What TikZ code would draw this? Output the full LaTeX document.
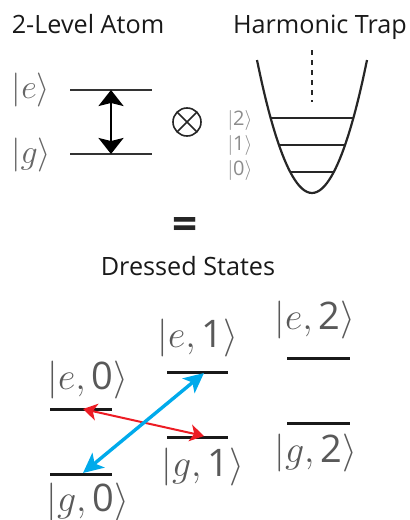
\RequirePackage{fix-cm}
\documentclass[tikz,border=0pt]{standalone}
\usepackage{amsmath}
\usepackage{fontspec}
\setsansfont{Open Sans}
\usepackage{xcolor}
\usetikzlibrary{arrows.meta}
\definecolor{lasred}{RGB}{237,28,36}
\definecolor{lasblue}{RGB}{0,170,235}
\tikzset{
  hd/.style={font=\sffamily\fontsize{12.6}{14}\selectfont, text=black!90, inner sep=0pt, anchor=base},
  ket/.style={text=black!60, inner sep=0pt, font=\fontsize{17}{20}\selectfont},
  tket/.style={text=black!45, inner sep=0pt, font=\fontsize{10}{12}\selectfont},
  dket/.style={text=black!65, inner sep=0pt, font=\fontsize{19}{22}\selectfont},
  alvl/.style={draw=black!80, line width=1pt},
  tlvl/.style={draw=black!85, line width=1.1pt},
  dlvl/.style={draw=black!90, line width=1.5pt},
  otimes/.style={circle, draw=black!85, line width=0.8pt, minimum size=14pt, inner sep=0pt,
    path picture={\draw[black!85, line width=0.8pt]
      (path picture bounding box.north west) -- (path picture bounding box.south east)
      (path picture bounding box.north east) -- (path picture bounding box.south west);}},
  bkarr/.style={draw=black, line width=1.1pt, {Stealth[length=8pt,width=12.5pt,inset=1.5pt]}-{Stealth[length=8pt,width=12.5pt,inset=1.5pt]}},
  rdarr/.style={draw=lasred, line width=1pt, {Stealth[length=7pt,width=8.5pt,inset=2pt]}-{Stealth[length=7pt,width=8.5pt,inset=2pt]}},
  blarr/.style={draw=lasblue, line width=1.7pt, {Stealth[length=10pt,width=9.5pt,inset=2.5pt]}-{Stealth[length=10pt,width=9.5pt,inset=2.5pt]}}
}

\begin{document}
\begin{tikzpicture}[x=0.5pt, y=-0.5pt]
  \useasboundingbox (0,0) rectangle (410,520);
  % headings
  \node[hd] (hatom) at (88,33) {2-Level Atom};
  \node[hd] (htrap) at (320,33) {Harmonic Trap};
  \node[hd] (hdress) at (188,275) {Dressed States};
  \node[font=\sffamily\bfseries\fontsize{22}{24}\selectfont, text=black!85, inner sep=0pt] (eq) at (185,228) {=};
  % two-level atom
  \coordinate (el) at (70,90);  \coordinate (er) at (152,90);
  \coordinate (gl) at (70,154); \coordinate (gr) at (152,154);
  \coordinate (ea) at (111,90); \coordinate (ga) at (111,154);
  \draw[alvl] (el) -- (er);
  \draw[alvl] (gl) -- (gr);
  \draw[bkarr] (ea) -- (ga);
  \node[ket] (ke) at (31,90) {$|e\rangle$};
  \node[ket] (kg) at (31,155) {$|g\rangle$};
  \node[otimes] (prod) at (187,122) {};
  % harmonic trap
  \coordinate (tl) at (257,60); \coordinate (tb) at (312,193); \coordinate (tr) at (367,60);
  \draw[tlvl] (tl) parabola bend (tb) (tr);
  \coordinate (dt) at (312,50); \coordinate (db) at (312,102);
  \draw[tlvl, dash pattern=on 2.5pt off 2.5pt] (dt) -- (db);
  \coordinate (n2l) at (270.7,118); \coordinate (n2r) at (353.3,118);
  \coordinate (n1l) at (279,145);   \coordinate (n1r) at (345,145);
  \coordinate (n0l) at (290.1,172); \coordinate (n0r) at (333.9,172);
  \draw[tlvl] (n2l) -- (n2r);
  \draw[tlvl] (n1l) -- (n1r);
  \draw[tlvl] (n0l) -- (n0r);
  \node[tket] (k2) at (240,120) {$|\mathsf{2}\rangle$};
  \node[tket] (k1) at (240,145) {$|\mathsf{1}\rangle$};
  \node[tket] (k0) at (240,170) {$|\mathsf{0}\rangle$};
  % dressed states
  \coordinate (e0l) at (50,409);  \coordinate (e0r) at (112,409);
  \coordinate (g0l) at (50,474);  \coordinate (g0r) at (112,474);
  \coordinate (e1l) at (167,372); \coordinate (e1r) at (228,372);
  \coordinate (g1l) at (167,437); \coordinate (g1r) at (228,437);
  \coordinate (e2l) at (287,358); \coordinate (e2r) at (350,358);
  \coordinate (g2l) at (287,423); \coordinate (g2r) at (350,423);
  \foreach \lv in {e0,g0,e1,g1,e2,g2}
    \draw[dlvl] (\lv l) -- (\lv r);
  \node[dket] (ke0) at (88,380) {$|e,\mathsf{0}\rangle$};
  \node[dket] (kg0) at (88,502) {$|g,\mathsf{0}\rangle$};
  \node[dket] (ke1) at (198,338) {$|e,\mathsf{1}\rangle$};
  \node[dket] (kg1) at (203,467) {$|g,\mathsf{1}\rangle$};
  \node[dket] (ke2) at (315,320) {$|e,\mathsf{2}\rangle$};
  \node[dket] (kg2) at (316,453) {$|g,\mathsf{2}\rangle$};
  \coordinate (re0) at (83,409);  \coordinate (rg1) at (204,436);
  \coordinate (bg0) at (83,473);  \coordinate (be1) at (204,373);
  \draw[rdarr] (re0) -- (rg1);
  \draw[blarr] (bg0) -- (be1);
\end{tikzpicture}
\end{document}
